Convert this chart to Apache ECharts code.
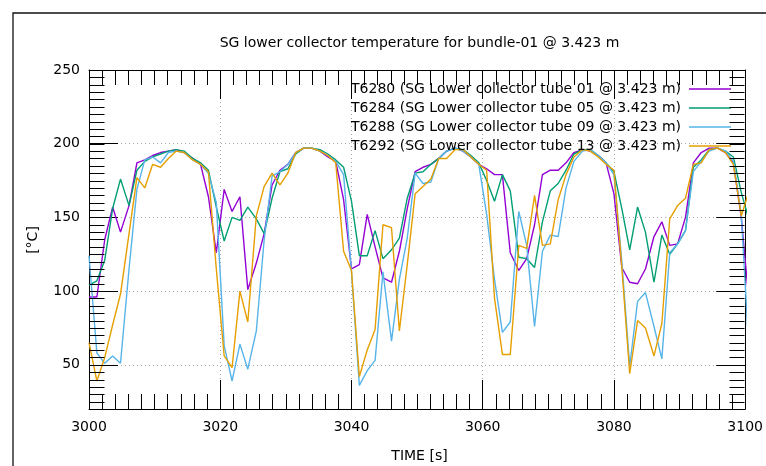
<!DOCTYPE html>
<html>
<head>
<meta charset="utf-8">
<script src="https://cdn.jsdelivr.net/npm/echarts@6/dist/echarts.min.js"></script>
<style>
  html, body { margin: 0; padding: 0; background: #fff; }
  #chart { width: 766px; height: 466px; }
</style>
</head>
<body>
<div id="chart"></div>
<script>
// Sample times [s]
const times = [
  3000.0, 3001.2, 3002.4, 3003.6, 3004.8, 3006.1, 3007.3, 3008.5, 3009.7, 3010.9,
  3012.1, 3013.3, 3014.5, 3015.8, 3017.0, 3018.2, 3019.4, 3020.6, 3021.8, 3023.0,
  3024.2, 3025.5, 3026.7, 3027.9, 3029.1, 3030.3, 3031.5, 3032.7, 3033.9, 3035.2,
  3036.4, 3037.6, 3038.8, 3040.0, 3041.2, 3042.4, 3043.6, 3044.8, 3046.1, 3047.3,
  3048.5, 3049.7, 3050.9, 3052.1, 3053.3, 3054.5, 3055.8, 3057.0, 3058.2, 3059.4,
  3060.6, 3061.8, 3063.0, 3064.2, 3065.5, 3066.7, 3067.9, 3069.1, 3070.3, 3071.5,
  3072.7, 3073.9, 3075.2, 3076.4, 3077.6, 3078.8, 3080.0, 3081.2, 3082.4, 3083.6,
  3084.8, 3086.1, 3087.3, 3088.5, 3089.7, 3090.9, 3092.1, 3093.3, 3094.5, 3095.8,
  3097.0, 3098.2, 3099.4, 3100.6
];

// Tube temperatures [°C]
const t6280 = [
  96, 96, 135, 157, 140, 158, 187, 189, 192, 194, 195, 196, 194, 190, 186, 164, 126,
  169, 154, 164, 101, 119, 139, 172, 182, 186, 194, 197, 197, 195, 191, 188, 162, 115,
  118, 152, 130, 109, 106, 127, 156, 181, 184, 186, 190, 195, 197, 195, 191, 186,
  183, 179, 179, 126, 114, 122, 145, 179, 182, 182, 187, 194, 196, 195, 192, 187, 166,
  116, 106, 105, 115, 137, 147, 131, 132, 150, 187, 194, 197, 197, 194, 187, 150, 92
];
const t6284 = [
  104, 107, 121, 156, 176, 158, 182, 188, 191, 193, 195, 196, 195, 190, 187, 182, 157,
  134, 150, 148, 157, 149, 139, 163, 181, 183, 193, 197, 197, 196, 193, 189, 184, 161,
  124, 124, 141, 122, 128, 136, 163, 180, 181, 186, 190, 195, 197, 196, 192, 187,
  175, 161, 179, 168, 123, 122, 116, 147, 168, 173, 182, 193, 196, 196, 192, 187, 181,
  156, 128, 157, 140, 106, 138, 125, 132, 141, 184, 189, 196, 197, 195, 191, 167, 148
];
const t6288 = [
  124, 58, 51, 56, 51, 115, 169, 189, 191, 187, 194, 195, 194, 189, 186, 180, 160,
  63, 39, 64, 47, 73, 135, 178, 181, 186, 194, 197, 197, 195, 192, 188, 179, 113,
  36, 46, 53, 113, 66, 108, 136, 180, 173, 174, 190, 195, 197, 195, 191, 186,
  152, 108, 72, 79, 154, 131, 76, 127, 138, 137, 170, 188, 195, 196, 192, 187, 179,
  120, 49, 93, 99, 76, 54, 126, 132, 141, 181, 188, 195, 197, 195, 188, 152, 58
];
const t6292 = [
  65, 39, 55, 77, 98, 139, 177, 170, 186, 184, 190, 195, 194, 189, 186, 181, 115,
  56, 48, 100, 79, 151, 171, 180, 172, 180, 194, 197, 197, 195, 192, 187, 127, 114,
  42, 60, 74, 145, 143, 73, 118, 166, 171, 176, 190, 190, 196, 196, 191, 186,
  182, 95, 57, 57, 131, 129, 165, 131, 132, 162, 179, 191, 196, 195, 191, 186, 182,
  116, 44, 80, 75, 56, 78, 149, 158, 163, 186, 187, 196, 197, 194, 186, 151, 168
];

const seriesNames = [
  'T6280 (SG Lower collector tube 01 @ 3.423 m)',
  'T6284 (SG Lower collector tube 05 @ 3.423 m)',
  'T6288 (SG Lower collector tube 09 @ 3.423 m)',
  'T6292 (SG Lower collector tube 13 @ 3.423 m)'
];
const seriesValues = [t6280, t6284, t6288, t6292];
const colors = ['#9400d3', '#009e73', '#56b4e9', '#e69f00'];

// Axis ranges and tick positions
const yTickValues = [50, 100, 150, 200, 250];
const xMin = 3000, xMax = 3100, xStep = 20;
const yMin = 20, yMax = 250, yMinorStep = 5;
const yMinorValues = [];
for (let v = yMin + yMinorStep; v < yMax; v += yMinorStep) yMinorValues.push(v);

const FONT = 'DejaVu Sans';
const FS = 14;
const PLOT = { left: 89, top: 70, width: 661, height: 339 };
const MAJOR_LEN = 29, MINOR_LEN = 15;

const chart = echarts.init(document.getElementById('chart'), null, { renderer: 'canvas' });

const black = '#000';
const gridLine = { show: true, lineStyle: { color: '#a8a8a8', width: 1, type: [1, 3] } };
const plain = v => String(v);

function xAxisDef(pos, labels, split) {
  return {
    type: 'value', position: pos, min: xMin, max: xMax, interval: xStep,
    axisLine: { show: true, onZero: false, lineStyle: { color: black, width: 1 } },
    axisTick: { show: true, inside: true, length: MAJOR_LEN, lineStyle: { color: black } },
    minorTick: { show: true, splitNumber: 10, length: MINOR_LEN, lineStyle: { color: black } },
    axisLabel: { show: labels, margin: 11, color: black, fontFamily: FONT, fontSize: FS, formatter: plain },
    splitLine: split ? gridLine : { show: false }
  };
}
// Major y ticks (every 50) with labels and grid lines
function yAxisDef(pos, labels, split) {
  return {
    type: 'value', position: pos, min: yMin, max: yMax,
    axisLine: { show: true, onZero: false, lineStyle: { color: black, width: 1 } },
    axisTick: { show: true, inside: true, length: MAJOR_LEN, customValues: yTickValues, lineStyle: { color: black } },
    axisLabel: { show: labels, customValues: yTickValues, margin: 9, color: black, fontFamily: FONT, fontSize: FS, formatter: plain },
    splitLine: split ? gridLine : { show: false }
  };
}

const textGraphics = [
  { id: 'frame', type: 'rect', shape: { x: 13, y: 13, width: 800, height: 500 }, style: { fill: 'none', stroke: '#111', lineWidth: 1.3 }, silent: true },
  { id: 'title', type: 'text', x: 419.5, y: 43, style: { text: 'SG lower collector temperature for bundle-01 @ 3.423 m', fontFamily: FONT, fontSize: FS, fill: black, align: 'center', verticalAlign: 'middle' } },
  { id: 'xname', type: 'text', x: 419.5, y: 456, style: { text: 'TIME [s]', fontFamily: FONT, fontSize: FS, fill: black, align: 'center', verticalAlign: 'middle' } },
  { id: 'yname', type: 'text', x: 33, y: 240, rotation: Math.PI / 2, style: { text: '[°C]', fontFamily: FONT, fontSize: FS, fill: black, align: 'center', verticalAlign: 'middle' } }
];

chart.setOption({
  animation: false,
  backgroundColor: '#fff',
  color: colors,
  grid: PLOT,
  xAxis: [xAxisDef('bottom', true, true), xAxisDef('top', false, false)],
  yAxis: [yAxisDef('left', true, true), yAxisDef('right', false, false)],
  legend: {
    orient: 'vertical', right: 30, top: 77, align: 'right',
    icon: 'rect', itemWidth: 42, itemHeight: 1.4, itemGap: 5,
    textStyle: { fontFamily: FONT, fontSize: FS, lineHeight: 14, color: black, padding: [0, 3, 0, 0] },
    data: seriesNames
  },
  graphic: textGraphics,
  series: seriesValues.map((vals, i) => ({
    name: seriesNames[i],
    type: 'line',
    xAxisIndex: 0, yAxisIndex: 0,
    symbol: 'none',
    clip: true,
    itemStyle: { color: colors[i] },
    lineStyle: { width: 1.4, color: colors[i] },
    data: times.map((t, j) => [t, vals[j]])
  }))
});

// Pixel position of a data point through the grid's scales (linear fallback on the same ranges)
function toPixel(x, y) {
  try {
    const p = chart.convertToPixel({ gridIndex: 0 }, [x, y]);
    if (p && isFinite(p[0]) && isFinite(p[1])) return p;
  } catch (e) { /* use the linear mapping below */ }
  return [
    PLOT.left + (x - xMin) / (xMax - xMin) * PLOT.width,
    PLOT.top + (yMax - y) / (yMax - yMin) * PLOT.height
  ];
}

// Short y ticks every 5 °C on both side borders
const tickStyle = { stroke: black, lineWidth: 1 };
const minorTickGraphics = [];
yMinorValues.forEach((v, i) => {
  const pL = toPixel(xMin, v);
  const pR = toPixel(xMax, v);
  const y = Math.round(pL[1]) + 0.5;
  const xl = Math.round(pL[0]) + 0.5;
  const xr = Math.round(pR[0]) - 0.5;
  minorTickGraphics.push(
    { id: 'ytl' + i, type: 'line', silent: true, z: 50, shape: { x1: xl, y1: y, x2: xl + MINOR_LEN, y2: y }, style: tickStyle },
    { id: 'ytr' + i, type: 'line', silent: true, z: 50, shape: { x1: xr - MINOR_LEN, y1: y, x2: xr, y2: y }, style: tickStyle }
  );
});
chart.setOption({ graphic: { elements: textGraphics.concat(minorTickGraphics) } });
</script>
</body>
</html>
